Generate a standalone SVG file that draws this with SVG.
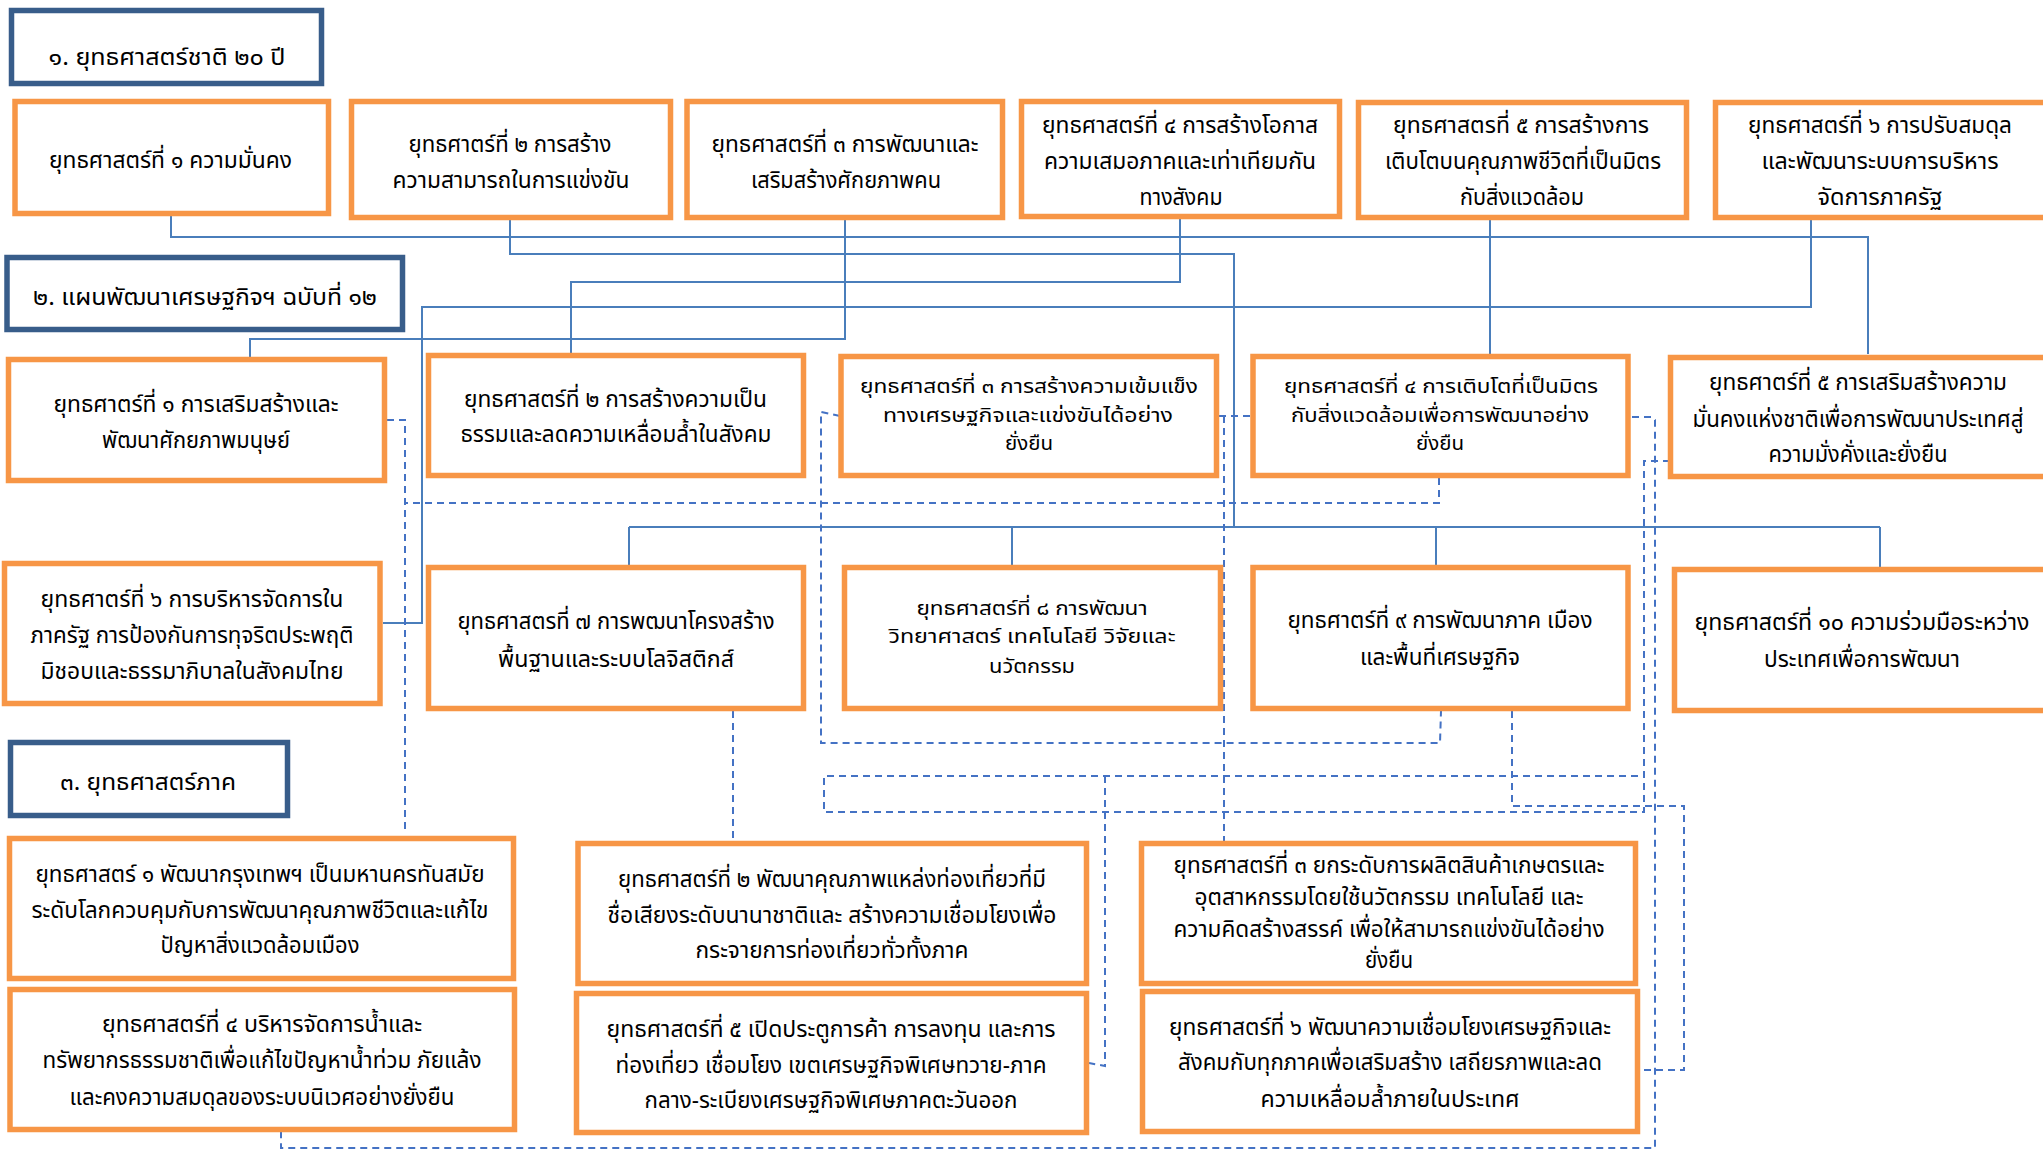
<svg xmlns="http://www.w3.org/2000/svg" width="2043" height="1151" viewBox="0 0 2043 1151">
<style>
.hd{fill:#fff;stroke:#385D8A;stroke-width:5.5}
.bx{fill:#fff;stroke:#F79646;stroke-width:5.5}
.t{font-family:"Noto Sans Thai","Noto Sans","DejaVu Sans",sans-serif;font-size:23px;fill:#000;text-anchor:middle}
.c{font-size:20px}
.s{fill:none;stroke:#4A7EBB;stroke-width:2}
.d{fill:none;stroke:#4472C4;stroke-width:2;stroke-dasharray:7 5}
</style>
<rect width="2043" height="1151" fill="#fff"/>
<g id="connectors">
<path class="s" d="M171,216V237H1868V354"/>
<path class="s" d="M510,220V254H1234V527"/>
<path class="s" d="M629,527H1880M629,527V565M1012,527V565M1436,527V565M1880,527V567"/>
<path class="s" d="M845,220V339H250V357"/>
<path class="s" d="M1180,219V282H571V353"/>
<path class="s" d="M1490,220V354"/>
<path class="s" d="M1811,220V307H422V623H383"/>
<path class="d" d="M387,420H405V830"/>
<path class="d" d="M1439,478V503H405"/>
<path class="d" d="M840,416L821,412V743H1440L1441,711"/>
<path class="d" d="M1219,416H1251M1224,416V841"/>
<path class="d" d="M1632,417H1652L1655,420V1148H281V1132"/>
<path class="d" d="M1670,461H1644V812H824V776H1644"/>
<path class="d" d="M1105,776V1066L1089,1063"/>
<path class="d" d="M1512,711V806H1684V1070H1640"/>
<path class="d" d="M733,711V841"/>
</g>
<g id="h1"><rect class="hd" x="11.5" y="10.5" width="310" height="73"/><text class="t" x="167" y="65" textLength="237" lengthAdjust="spacingAndGlyphs">๑. ยุทธศาสตร์ชาติ ๒๐ ปี</text></g>
<g id="h2"><rect class="hd" x="7" y="257.5" width="395.5" height="72"/><text class="t" x="205" y="305" textLength="344" lengthAdjust="spacingAndGlyphs">๒. แผนพัฒนาเศรษฐกิจฯ ฉบับที่ ๑๒</text></g>
<g id="h3"><rect class="hd" x="10.5" y="742.5" width="277" height="73"/><text class="t" x="148" y="790" textLength="176" lengthAdjust="spacingAndGlyphs">๓. ยุทธศาสตร์ภาค</text></g>

<g id="n1"><rect class="bx" x="15" y="101.5" width="313.5" height="112"/><text class="t" x="170.5" y="168" textLength="243" lengthAdjust="spacingAndGlyphs">ยุทธศาสตร์ที่ ๑ ความมั่นคง</text></g>
<g id="n2"><rect class="bx" x="351.5" y="101.5" width="319" height="116"/><text class="t" x="510" y="152" textLength="203" lengthAdjust="spacingAndGlyphs">ยุทธศาตร์ที่ ๒ การสร้าง</text><text class="t" x="511" y="188" textLength="237" lengthAdjust="spacingAndGlyphs">ความสามารถในการแข่งขัน</text></g>
<g id="n3"><rect class="bx" x="687" y="101.5" width="315.5" height="116"/><text class="t" x="845" y="152" textLength="267" lengthAdjust="spacingAndGlyphs">ยุทธศาสตร์ที่ ๓ การพัฒนาและ</text><text class="t" x="846" y="188" textLength="190" lengthAdjust="spacingAndGlyphs">เสริมสร้างศักยภาพคน</text></g>
<g id="n4"><rect class="bx" x="1021.5" y="101.5" width="318" height="115"/><text class="t" x="1180" y="133" textLength="276" lengthAdjust="spacingAndGlyphs">ยุทธศาสตร์ที่ ๔ การสร้างโอกาส</text><text class="t" x="1180" y="169" textLength="272" lengthAdjust="spacingAndGlyphs">ความเสมอภาคและเท่าเทียมกัน</text><text class="t" x="1181" y="205" textLength="83" lengthAdjust="spacingAndGlyphs">ทางสังคม</text></g>
<g id="n5"><rect class="bx" x="1358.5" y="102.5" width="328" height="115"/><text class="t" x="1521" y="133" textLength="256" lengthAdjust="spacingAndGlyphs">ยุทธศาสตรที่ ๕ การสร้างการ</text><text class="t" x="1523" y="169" textLength="276" lengthAdjust="spacingAndGlyphs">เติบโตบนคุณภาพชีวิตที่เป็นมิตร</text><text class="t" x="1522" y="205" textLength="124" lengthAdjust="spacingAndGlyphs">กับสิ่งแวดล้อม</text></g>
<g id="n6"><rect class="bx" x="1715.5" y="102.5" width="340" height="115"/><text class="t" x="1880" y="133" textLength="264" lengthAdjust="spacingAndGlyphs">ยุทธศาสตร์ที่ ๖ การปรับสมดุล</text><text class="t" x="1880" y="169" textLength="237" lengthAdjust="spacingAndGlyphs">และพัฒนาระบบการบริหาร</text><text class="t" x="1880" y="205" textLength="125" lengthAdjust="spacingAndGlyphs">จัดการภาครัฐ</text></g>

<g id="p1"><rect class="bx" x="8.5" y="359.5" width="376" height="121"/><text class="t" x="196" y="412" textLength="285" lengthAdjust="spacingAndGlyphs">ยุทธศาตร์ที่ ๑ การเสริมสร้างและ</text><text class="t" x="196" y="448" textLength="188" lengthAdjust="spacingAndGlyphs">พัฒนาศักยภาพมนุษย์</text></g>
<g id="p2"><rect class="bx" x="428.5" y="355.5" width="375" height="120"/><text class="t" x="615.5" y="407" textLength="303" lengthAdjust="spacingAndGlyphs">ยุทธศาสตร์ที่ ๒ การสร้างความเป็น</text><text class="t" x="616" y="442" textLength="311" lengthAdjust="spacingAndGlyphs">ธรรมและลดความเหลื่อมล้ำในสังคม</text></g>
<g id="p3"><rect class="bx" x="841" y="356.5" width="375.5" height="119"/><text class="t c" x="1029" y="393" textLength="338" lengthAdjust="spacingAndGlyphs">ยุทธศาสตร์ที่ ๓ การสร้างความเข้มแข็ง</text><text class="t c" x="1028" y="422" textLength="290" lengthAdjust="spacingAndGlyphs">ทางเศรษฐกิจและแข่งขันได้อย่าง</text><text class="t c" x="1029" y="450" textLength="48" lengthAdjust="spacingAndGlyphs">ยั่งยืน</text></g>
<g id="p4"><rect class="bx" x="1253" y="356.5" width="375" height="119"/><text class="t c" x="1441" y="393" textLength="314" lengthAdjust="spacingAndGlyphs">ยุทธศาสตร์ที่ ๔ การเติบโตที่เป็นมิตร</text><text class="t c" x="1440" y="422" textLength="298" lengthAdjust="spacingAndGlyphs">กับสิ่งแวดล้อมเพื่อการพัฒนาอย่าง</text><text class="t c" x="1440" y="450" textLength="48" lengthAdjust="spacingAndGlyphs">ยั่งยืน</text></g>
<g id="p5"><rect class="bx" x="1670.5" y="357.5" width="400" height="119"/><text class="t" x="1858" y="390" textLength="298" lengthAdjust="spacingAndGlyphs">ยุทธศาตร์ที่ ๕ การเสริมสร้างความ</text><text class="t" x="1858" y="427" textLength="331" lengthAdjust="spacingAndGlyphs">มั่นคงแห่งชาติเพื่อการพัฒนาประเทศสู่</text><text class="t" x="1858" y="462" textLength="179" lengthAdjust="spacingAndGlyphs">ความมั่งคั่งและยั่งยืน</text></g>

<g id="p6"><rect class="bx" x="4.5" y="563.5" width="375.5" height="140"/><text class="t" x="192" y="607" textLength="303" lengthAdjust="spacingAndGlyphs">ยุทธศาตร์ที่ ๖ การบริหารจัดการใน</text><text class="t" x="192" y="643" textLength="323" lengthAdjust="spacingAndGlyphs">ภาครัฐ การป้องกันการทุจริตประพฤติ</text><text class="t" x="192" y="679" textLength="303" lengthAdjust="spacingAndGlyphs">มิชอบและธรรมาภิบาลในสังคมไทย</text></g>
<g id="p7"><rect class="bx" x="428.5" y="567.5" width="375" height="141"/><text class="t" x="616" y="629" textLength="317" lengthAdjust="spacingAndGlyphs">ยุทธศาสตรที่ ๗ การพฒนาโครงสร้าง</text><text class="t" x="616" y="667" textLength="236" lengthAdjust="spacingAndGlyphs">พื้นฐานและระบบโลจิสติกส์</text></g>
<g id="p8"><rect class="bx" x="844.5" y="567.5" width="376" height="141"/><text class="t c" x="1032" y="615" textLength="231" lengthAdjust="spacingAndGlyphs">ยุทธศาสตร์ที่ ๘ การพัฒนา</text><text class="t c" x="1032" y="643" textLength="287" lengthAdjust="spacingAndGlyphs">วิทยาศาสตร์ เทคโนโลยี วิจัยและ</text><text class="t c" x="1032" y="673" textLength="86" lengthAdjust="spacingAndGlyphs">นวัตกรรม</text></g>
<g id="p9"><rect class="bx" x="1253" y="567.5" width="375" height="141"/><text class="t" x="1440" y="628" textLength="305" lengthAdjust="spacingAndGlyphs">ยุทธศาตร์ที่ ๙ การพัฒนาภาค เมือง</text><text class="t" x="1440" y="665" textLength="160" lengthAdjust="spacingAndGlyphs">และพื้นที่เศรษฐกิจ</text></g>
<g id="p10"><rect class="bx" x="1674.5" y="569.5" width="400" height="141"/><text class="t" x="1862" y="630" textLength="335" lengthAdjust="spacingAndGlyphs">ยุทธศาสตร์ที่ ๑๐ ความร่วมมือระหว่าง</text><text class="t" x="1862" y="667" textLength="196" lengthAdjust="spacingAndGlyphs">ประเทศเพื่อการพัฒนา</text></g>

<g id="r1"><rect class="bx" x="9.5" y="838.5" width="504" height="140"/><text class="t" x="260" y="882" textLength="449" lengthAdjust="spacingAndGlyphs">ยุทธศาสตร์ ๑ พัฒนากรุงเทพฯ เป็นมหานครทันสมัย</text><text class="t" x="260" y="918" textLength="457" lengthAdjust="spacingAndGlyphs">ระดับโลกควบคุมกับการพัฒนาคุณภาพชีวิตและแก้ไข</text><text class="t" x="260" y="953" textLength="199" lengthAdjust="spacingAndGlyphs">ปัญหาสิ่งแวดล้อมเมือง</text></g>
<g id="r4"><rect class="bx" x="10" y="989.5" width="504.5" height="140"/><text class="t" x="262" y="1032" textLength="320" lengthAdjust="spacingAndGlyphs">ยุทธศาสตร์ที่ ๔ บริหารจัดการน้ำและ</text><text class="t" x="262" y="1068" textLength="439" lengthAdjust="spacingAndGlyphs">ทรัพยากรธรรมชาติเพื่อแก้ไขปัญหาน้ำท่วม ภัยแล้ง</text><text class="t" x="262" y="1105" textLength="385" lengthAdjust="spacingAndGlyphs">และคงความสมดุลของระบบนิเวศอย่างยั่งยืน</text></g>
<g id="r2"><rect class="bx" x="578" y="843.5" width="508.5" height="140"/><text class="t" x="832" y="887" textLength="428" lengthAdjust="spacingAndGlyphs">ยุทธศาสตร์ที่ ๒ พัฒนาคุณภาพแหล่งท่องเที่ยวที่มี</text><text class="t" x="832" y="923" textLength="449" lengthAdjust="spacingAndGlyphs">ชื่อเสียงระดับนานาชาติและ สร้างความเชื่อมโยงเพื่อ</text><text class="t" x="832" y="958" textLength="273" lengthAdjust="spacingAndGlyphs">กระจายการท่องเที่ยวทั่วทั้งภาค</text></g>
<g id="r5"><rect class="bx" x="576.5" y="993.5" width="510" height="139"/><text class="t" x="831" y="1037" textLength="449" lengthAdjust="spacingAndGlyphs">ยุทธศาสตร์ที่ ๕ เปิดประตูการค้า การลงทุน และการ</text><text class="t" x="831" y="1073" textLength="431" lengthAdjust="spacingAndGlyphs">ท่องเที่ยว เชื่อมโยง เขตเศรษฐกิจพิเศษทวาย-ภาค</text><text class="t" x="831" y="1108" textLength="373" lengthAdjust="spacingAndGlyphs">กลาง-ระเบียงเศรษฐกิจพิเศษภาคตะวันออก</text></g>
<g id="r3"><rect class="bx" x="1141.5" y="843.5" width="494" height="140"/><text class="t" x="1389" y="873" textLength="431" lengthAdjust="spacingAndGlyphs">ยุทธศาสตร์ที่ ๓ ยกระดับการผลิตสินค้าเกษตรและ</text><text class="t" x="1389" y="905" textLength="389" lengthAdjust="spacingAndGlyphs">อุตสาหกรรมโดยใช้นวัตกรรม เทคโนโลยี และ</text><text class="t" x="1389" y="937" textLength="431" lengthAdjust="spacingAndGlyphs">ความคิดสร้างสรรค์ เพื่อให้สามารถแข่งขันได้อย่าง</text><text class="t" x="1389" y="968" textLength="48" lengthAdjust="spacingAndGlyphs">ยั่งยืน</text></g>
<g id="r6"><rect class="bx" x="1142.5" y="991.5" width="495" height="140"/><text class="t" x="1390" y="1035" textLength="442" lengthAdjust="spacingAndGlyphs">ยุทธศาสตร์ที่ ๖ พัฒนาความเชื่อมโยงเศรษฐกิจและ</text><text class="t" x="1390" y="1070" textLength="424" lengthAdjust="spacingAndGlyphs">สังคมกับทุกภาคเพื่อเสริมสร้าง เสถียรภาพและลด</text><text class="t" x="1390" y="1107" textLength="259" lengthAdjust="spacingAndGlyphs">ความเหลื่อมล้ำภายในประเทศ</text></g>
</svg>
